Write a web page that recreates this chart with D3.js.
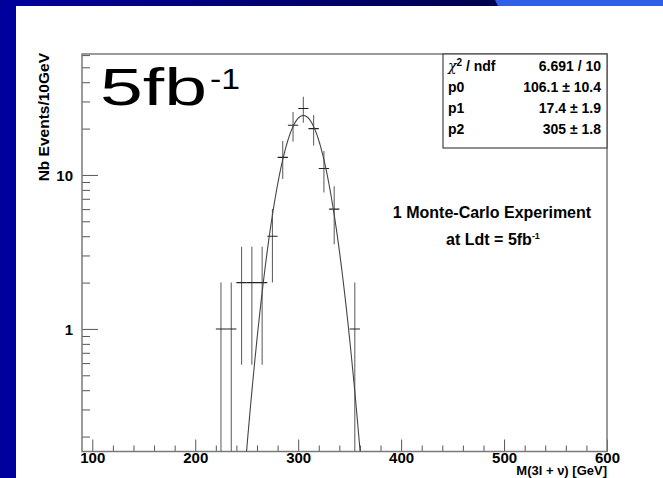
<!DOCTYPE html>
<html>
<head>
<meta charset="utf-8">
<script src="https://cdn.jsdelivr.net/npm/d3@7"></script>
<style>
  html, body { margin: 0; padding: 0; background: #fff; }
  svg { display: block; }
  text { font-family: "Liberation Sans", Arial, sans-serif; }
</style>
</head>
<body>
<svg id="chart" width="663" height="478"></svg>
<script>
// Histogram: 10 GeV bins, one Monte-Carlo experiment
const binCenters = [225, 235, 245, 255, 265, 275, 285, 295, 305, 315, 325, 335, 355];
const counts     = [1, 1, 2, 2, 2, 4, 13, 21, 27, 20, 11, 6, 1];
const binWidth = 10;

// Gaussian fit results (p0 = normalisation, p1 = sigma, p2 = mean)
const fitNames  = ["p0", "p1", "p2"];
const fitValues = [106.1, 17.4, 305];
const fitErrors = [10.4, 1.9, 1.8];
const fitValueText = ["106.1", "17.4", "305"];
const fitErrorText = ["10.4", "1.9", "1.8"];
const chi2Text = "6.691 / 10";

const xTicksMajor = [100, 200, 300, 400, 500, 600];
const yTicksMajor = [1, 10];

const svg = d3.select("#chart");
const W = 663, H = 478;

// ---- slide background ----
const defs = svg.append("defs");
const grad = defs.append("linearGradient").attr("id", "topband").attr("x1", 0).attr("x2", 1).attr("y1", 0).attr("y2", 0);
grad.append("stop").attr("offset", "0%").attr("stop-color", "#00009e");
grad.append("stop").attr("offset", "100%").attr("stop-color", "#00004e");

svg.append("rect").attr("width", W).attr("height", H).attr("fill", "#00009c");
svg.append("rect").attr("x", 0).attr("y", 0).attr("width", 500).attr("height", 6).attr("fill", "url(#topband)");
svg.append("path").attr("d", "M495,0 L663,0 L663,6 L498,6 Z").attr("fill", "#2f5fe6");
svg.append("rect").attr("x", 16).attr("y", 6).attr("width", W - 16).attr("height", H - 6).attr("fill", "#ffffff");

// ---- plot frame ----
const fx0 = 82, fx1 = 607, fy0 = 54, fy1 = 451.5;
const x = d3.scaleLinear().domain([90, 600]).range([fx0, fx1]);
const y = d3.scaleLog().domain([0.16, 61]).range([fy1, fy0]);

defs.append("clipPath").attr("id", "frameclip")
  .append("rect").attr("x", fx0).attr("y", fy0).attr("width", fx1 - fx0).attr("height", fy1 - fy0);

// axes with ROOT-style inward ticks
const xMinor = d3.range(100, 601, 20).filter(v => !xTicksMajor.includes(v));
const yMinor = [0.2, 0.3, 0.4, 0.5, 0.6, 0.7, 0.8, 0.9, 2, 3, 4, 5, 6, 7, 8, 9, 20, 30, 40, 50, 60];

const xAxisMajor = d3.axisBottom(x).tickValues(xTicksMajor).tickSize(-12).tickPadding(1).tickFormat(d3.format("d"));
const xAxisMinor = d3.axisBottom(x).tickValues(xMinor).tickSize(-6).tickFormat("");
const yAxisMajor = d3.axisLeft(y).tickValues(yTicksMajor).tickSize(-16).tickPadding(9).tickFormat(d3.format("d"));
const yAxisMinor = d3.axisLeft(y).tickValues(yMinor).tickSize(-8).tickFormat("");

function styleAxis(g) {
  g.select(".domain").remove();
  g.selectAll(".tick line").attr("stroke", "#555").attr("stroke-width", 1);
  g.selectAll(".tick text").attr("fill", "#000").attr("font-size", 15).attr("font-weight", "bold")
    .attr("font-family", "Liberation Sans, Arial, sans-serif");
}
svg.append("g").attr("transform", `translate(0,${fy1})`).call(xAxisMajor).call(styleAxis);
svg.append("g").attr("transform", `translate(0,${fy1})`).call(xAxisMinor).call(styleAxis);
svg.append("g").attr("transform", `translate(${fx0},0)`).call(yAxisMajor).call(styleAxis)
  .selectAll(".tick text").attr("dy", "0.35em");
svg.append("g").attr("transform", `translate(${fx0},0)`).call(yAxisMinor).call(styleAxis);

svg.append("rect").attr("x", fx0).attr("y", fy0).attr("width", fx1 - fx0).attr("height", fy1 - fy0)
  .attr("fill", "none").attr("stroke", "#7a7a7a").attr("stroke-width", 1.5);

// axis titles
svg.append("text").attr("x", fx1).attr("y", 475).attr("text-anchor", "end")
  .attr("font-size", 13).attr("font-weight", "bold")
  .text("M(3l + ν) [GeV]");
svg.append("text").attr("transform", `translate(49,${fy0 - 1}) rotate(-90)`).attr("text-anchor", "end")
  .attr("font-size", 15.5).attr("font-weight", "bold")
  .text("Nb Events/10GeV");

// ---- histogram points with error bars ----
const plot = svg.append("g").attr("clip-path", "url(#frameclip)");
const pts = binCenters.map((c, i) => ({ c, n: counts[i], e: Math.sqrt(counts[i]) }));
const yBottom = v => (v <= 0.16 ? fy1 + 5 : y(v));

plot.selectAll("line.ev").data(pts).join("line").attr("class", "ev")
  .attr("x1", d => x(d.c)).attr("x2", d => x(d.c))
  .attr("y1", d => y(d.n + d.e)).attr("y2", d => yBottom(d.n - d.e))
  .attr("stroke", "#666").attr("stroke-width", 1.1);
plot.selectAll("line.eh").data(pts).join("line").attr("class", "eh")
  .attr("x1", d => x(d.c - binWidth / 2)).attr("x2", d => x(d.c + binWidth / 2))
  .attr("y1", d => y(d.n)).attr("y2", d => y(d.n))
  .attr("stroke", "#222").attr("stroke-width", 1.1);

// ---- fitted gaussian ----
const [p0, p1, p2] = fitValues;
const gaus = m => p0 * binWidth / (p1 * Math.sqrt(2 * Math.PI)) * Math.exp(-0.5 * Math.pow((m - p2) / p1, 2));
const curveX = d3.range(230, 380.01, 0.5);
plot.append("path")
  .attr("d", d3.line().x(m => x(m)).y(m => Math.min(fy1 + 20, y(Math.max(gaus(m), 0.05))))(curveX))
  .attr("fill", "none").attr("stroke", "#444").attr("stroke-width", 1.1);

// ---- fit statistics box ----
const bx0 = 443, bx1 = 607, by0 = 54, by1 = 148;
svg.append("rect").attr("x", bx0).attr("y", by0).attr("width", bx1 - bx0).attr("height", by1 - by0)
  .attr("fill", "#fff").attr("stroke", "#444").attr("stroke-width", 1.2);
const rowY = [66, 87, 108, 129];
const statRows = [{ label: "χ² / ndf", value: chi2Text }].concat(
  fitNames.map((n, i) => ({ label: n, value: fitValueText[i] + " ± " + fitErrorText[i] })));
const sb = svg.append("g").attr("font-size", 14).attr("font-weight", "bold");
statRows.forEach((r, i) => {
  const lt = sb.append("text").attr("x", bx0 + 5).attr("y", rowY[i]).attr("dy", "0.35em");
  if (i === 0) {
    lt.append("tspan").attr("font-weight", "normal").attr("font-family", "DejaVu Serif, serif").attr("font-style", "italic").text("χ");
    lt.append("tspan").attr("font-size", 10).attr("dy", "-0.45em").text("2");
    lt.append("tspan").attr("dy", "0.3em").text(" / ndf");
  } else {
    lt.text(r.label);
  }
  sb.append("text").attr("x", bx1 - 6).attr("y", rowY[i]).attr("dy", "0.35em")
    .attr("text-anchor", "end").text(r.value);
});

// ---- annotations ----
svg.append("text").attr("x", 100).attr("y", 105)
  .attr("font-family", "DejaVu Sans, sans-serif").attr("font-size", 52).attr("fill", "#000")
  .attr("textLength", 107).attr("lengthAdjust", "spacingAndGlyphs")
  .text("5fb");
svg.append("text").attr("x", 210).attr("y", 89)
  .attr("font-family", "DejaVu Sans, sans-serif").attr("font-size", 30).attr("fill", "#000")
  .attr("textLength", 30).attr("lengthAdjust", "spacingAndGlyphs")
  .text("-1");

svg.append("text").attr("x", 492).attr("y", 212).attr("dy", "0.35em").attr("text-anchor", "middle")
  .attr("font-size", 16).attr("font-weight", "bold").text("1 Monte-Carlo Experiment");
const l2 = svg.append("text").attr("x", 493).attr("y", 239).attr("dy", "0.35em").attr("text-anchor", "middle")
  .attr("font-size", 16).attr("font-weight", "bold");
l2.append("tspan").text("at Ldt = 5fb");
l2.append("tspan").attr("font-size", 9).attr("dy", "-0.6em").text("-1");
</script>
</body>
</html>
